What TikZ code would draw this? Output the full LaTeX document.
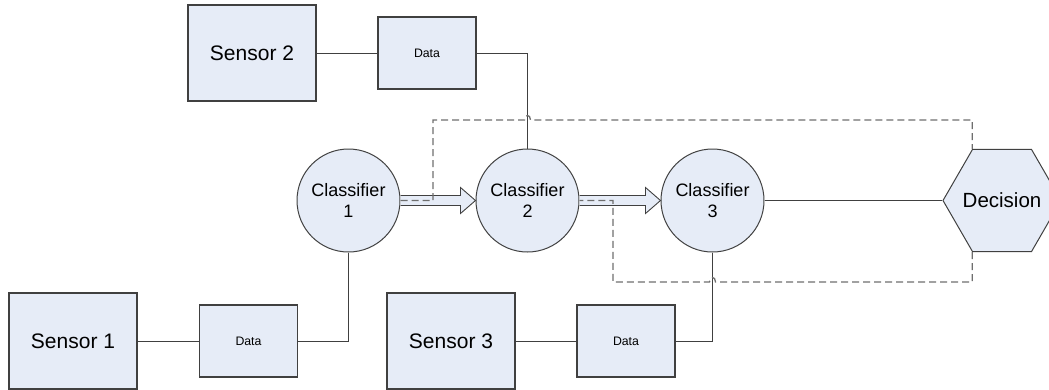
\documentclass[tikz,border=0pt]{standalone}
\usepackage{fontspec}
\setmainfont{Liberation Sans}
\usepackage{tikz}
\usetikzlibrary{shapes.geometric,calc}
\definecolor{boxfill}{HTML}{E6ECF7}
\definecolor{edge}{HTML}{404040}
\definecolor{dash}{HTML}{6E6E6E}

\begin{document}
\begin{tikzpicture}[x=1pt,y=-1pt,
	sensor/.style={rectangle,draw=edge,fill=boxfill,line width=1.2pt,minimum width=128pt,minimum height=96pt,font=\fontsize{21}{25}\selectfont},
	data/.style={rectangle,draw=edge,fill=boxfill,line width=1.2pt,minimum width=98pt,minimum height=72pt,font=\fontsize{12.3}{14}\selectfont},
	classifier/.style={circle,draw=edge,fill=boxfill,line width=1pt,minimum size=103pt,inner sep=0pt,align=center,font=\fontsize{18}{21}\selectfont},
	decision/.style={regular polygon,regular polygon sides=6,draw=edge,fill=boxfill,line width=1pt,minimum size=118pt,inner sep=0pt,
		label={[font=\fontsize{20.5}{24}\selectfont]center:#1}},
	wire/.style={draw=edge,line width=1pt},
	hollow/.style={draw=edge,fill=boxfill,line width=0.9pt,line join=miter},
	loop/.style={draw=dash,line width=1.3pt,dash pattern=on 7pt off 4pt},
	]
	\useasboundingbox (0,0) rectangle (1049,389);
	\node[sensor] (s1) at (73,341) {Sensor 1};
	\node[data] (d1) at (248.5,341) {Data};
	\node[sensor] (s2) at (252,53) {Sensor 2};
	\node[data] (d2) at (427,53) {Data};
	\node[sensor] (s3) at (451,341) {Sensor 3};
	\node[data] (d3) at (626,341) {Data};
	\node[classifier] (c1) at (348.5,200.5) {Classifier\\1};
	\node[classifier] (c2) at (527.5,200.5) {Classifier\\2};
	\node[classifier] (c3) at (712.5,200.5) {Classifier\\3};
	\node[decision=Decision] (dec) at (1002,200.5) {};
	\draw[wire] (s1.east) -- (d1.west);
	\draw[wire] (d1.east) -| (c1.south);
	\draw[wire] (s2.east) -- (d2.west);
	\draw[wire] (d2.east) -| (c2.north);
	\draw[wire] (s3.east) -- (d3.west);
	\draw[wire] (d3.east) -| (c3.south);
	\draw[wire] (c3.east) -- (dec.west);
	\foreach \a/\b in {c1/c2,c2/c3}
		\draw[hollow] ($(\a.east)+(0,-5)$) -- ($(\b.west)+(-15,-5)$) -- ($(\b.west)+(-15,-13)$) -- (\b.west)
			-- ($(\b.west)+(-15,13)$) -- ($(\b.west)+(-15,5)$) -- ($(\a.east)+(0,5)$);
	\draw[loop] (c1.east) -- (433,200.5) -- (433,120) -- (524.5,120)
		.. controls (524.5,114) and (530.5,114) .. (530.5,120) -| (dec.corner 2);
	\draw[loop] (dec.corner 4) |- (715.5,282)
		.. controls (715.5,276) and (709.5,276) .. (709.5,282) -- (613,282) |- (c2.east);
\end{tikzpicture}
\end{document}
